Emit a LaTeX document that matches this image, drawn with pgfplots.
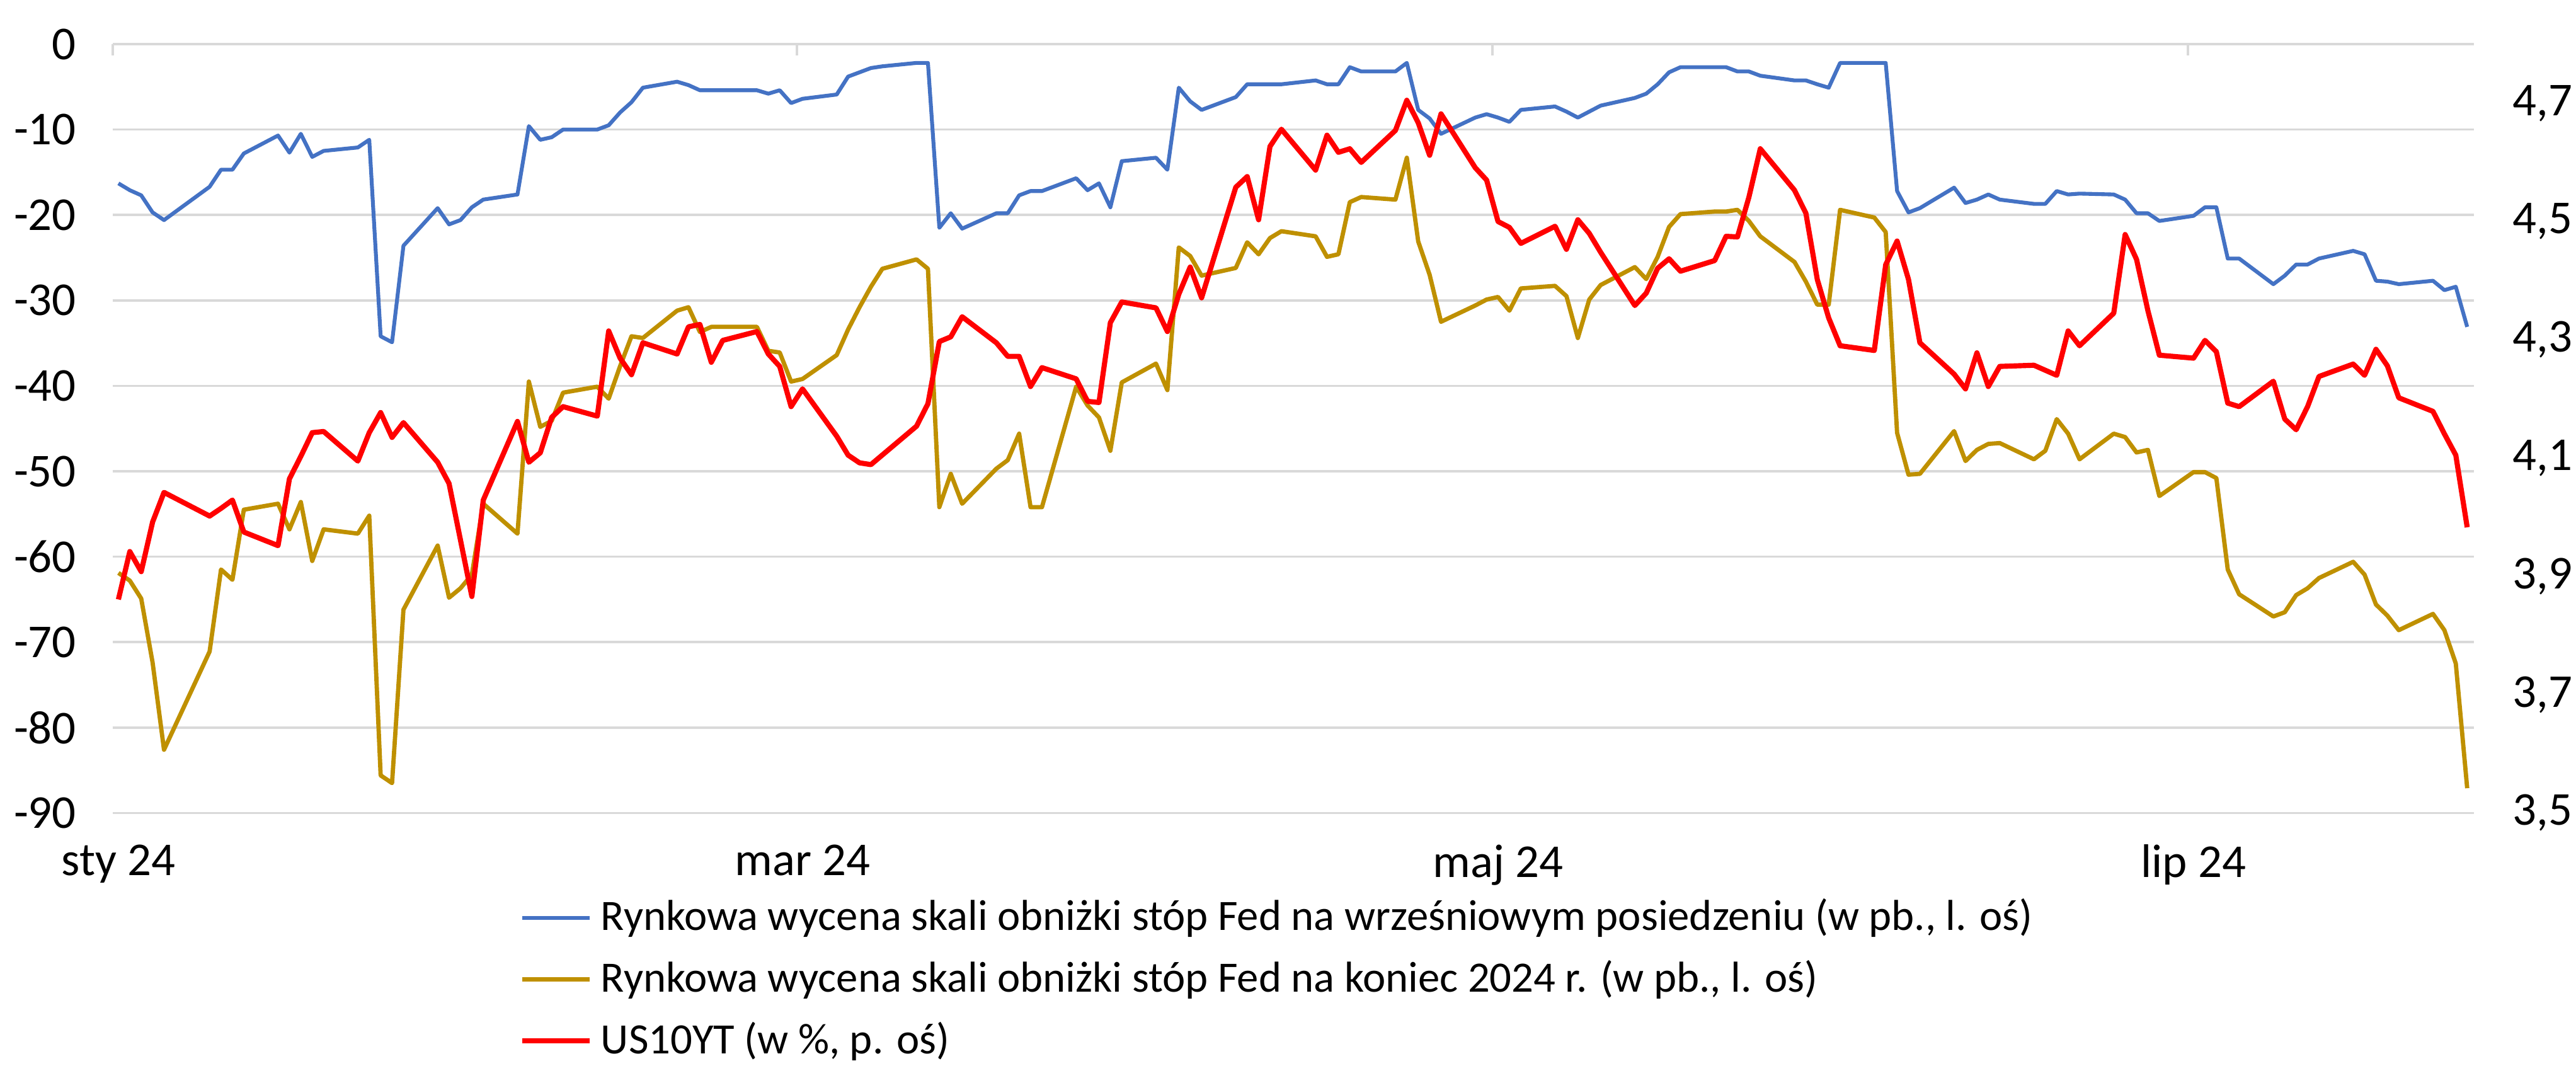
\documentclass[border=0pt]{standalone}
\usepackage{pgfplots}
\pgfplotsset{compat=1.18}
\usepackage{fontspec}
\setmainfont{Carlito}
\definecolor{cblue}{HTML}{4472C4}
\definecolor{cgold}{HTML}{BF9000}
\definecolor{cred}{HTML}{FF0000}
\definecolor{cgrid}{HTML}{D9D9D9}

\pgfplotstableread{
d v
0 -16.3
1 -17.1
2 -17.7
3 -19.7
4 -20.6
8 -16.7
9 -14.7
10 -14.7
11 -12.8
14 -10.7
15 -12.7
16 -10.5
17 -13.2
18 -12.5
21 -12.1
22 -11.2
23 -34.2
24 -34.9
25 -23.6
28 -19.2
29 -21.1
30 -20.6
31 -19.1
32 -18.2
35 -17.6
36 -9.6
37 -11.2
38 -10.9
39 -10.0
42 -10.0
43 -9.5
44 -8.0
45 -6.8
46 -5.1
49 -4.4
50 -4.8
51 -5.4
52 -5.4
53 -5.4
56 -5.4
57 -5.8
58 -5.4
59 -6.9
60 -6.4
63 -5.9
64 -3.8
65 -3.3
66 -2.8
67 -2.6
70 -2.2
71 -2.2
72 -21.5
73 -19.8
74 -21.6
77 -19.8
78 -19.8
79 -17.7
80 -17.2
81 -17.2
84 -15.7
85 -17.1
86 -16.3
87 -19.1
88 -13.7
91 -13.3
92 -14.7
93 -5.1
94 -6.7
95 -7.7
98 -6.2
99 -4.7
100 -4.7
101 -4.7
102 -4.7
105 -4.25
106 -4.7
107 -4.7
108 -2.7
109 -3.2
112 -3.2
113 -2.2
114 -7.7
115 -8.7
116 -10.5
119 -8.6
120 -8.2
121 -8.6
122 -9.1
123 -7.7
126 -7.3
127 -7.9
128 -8.6
129 -7.9
130 -7.2
133 -6.3
134 -5.8
135 -4.7
136 -3.3
137 -2.7
140 -2.7
141 -2.7
142 -3.2
143 -3.2
144 -3.7
147 -4.25
148 -4.25
149 -4.7
150 -5.1
151 -2.2
154 -2.2
155 -2.2
156 -17.2
157 -19.7
158 -19.2
161 -16.8
162 -18.6
163 -18.2
164 -17.6
165 -18.2
168 -18.7
169 -18.7
170 -17.2
171 -17.6
172 -17.5
175 -17.6
176 -18.2
177 -19.8
178 -19.8
179 -20.7
182 -20.1
183 -19.1
184 -19.1
185 -25.1
186 -25.1
189 -28.1
190 -27.1
191 -25.8
192 -25.8
193 -25.1
196 -24.2
197 -24.6
198 -27.7
199 -27.8
200 -28.1
203 -27.7
204 -28.8
205 -28.4
206 -33.1
}\blueT

\pgfplotstableread{
d v
0 -61.9
1 -62.8
2 -64.9
3 -72.4
4 -82.6
8 -71.1
9 -61.5
10 -62.7
11 -54.5
14 -53.8
15 -56.8
16 -53.6
17 -60.5
18 -56.8
21 -57.3
22 -55.2
23 -85.6
24 -86.5
25 -66.2
28 -58.7
29 -64.8
30 -63.7
31 -62.1
32 -53.8
35 -57.3
36 -39.5
37 -44.8
38 -44.1
39 -40.8
42 -40.1
43 -41.5
44 -37.7
45 -34.2
46 -34.4
49 -31.2
50 -30.8
51 -33.7
52 -33.1
53 -33.1
56 -33.1
57 -35.9
58 -36.1
59 -39.5
60 -39.2
63 -36.4
64 -33.4
65 -30.8
66 -28.4
67 -26.3
70 -25.2
71 -26.3
72 -54.2
73 -50.3
74 -53.8
77 -49.7
78 -48.7
79 -45.6
80 -54.2
81 -54.2
84 -40.1
85 -42.3
86 -43.7
87 -47.6
88 -39.6
91 -37.4
92 -40.5
93 -23.8
94 -24.8
95 -27.1
98 -26.2
99 -23.2
100 -24.6
101 -22.7
102 -21.9
105 -22.5
106 -24.9
107 -24.6
108 -18.5
109 -17.9
112 -18.2
113 -13.3
114 -23.1
115 -27.0
116 -32.5
119 -30.6
120 -29.9
121 -29.6
122 -31.2
123 -28.6
126 -28.3
127 -29.5
128 -34.4
129 -29.9
130 -28.2
133 -26.1
134 -27.5
135 -24.9
136 -21.4
137 -19.9
140 -19.6
141 -19.6
142 -19.4
143 -20.7
144 -22.5
147 -25.5
148 -27.8
149 -30.5
150 -30.5
151 -19.4
154 -20.3
155 -22.0
156 -45.5
157 -50.4
158 -50.3
161 -45.3
162 -48.8
163 -47.5
164 -46.8
165 -46.7
168 -48.6
169 -47.6
170 -43.9
171 -45.6
172 -48.6
175 -45.6
176 -46.0
177 -47.8
178 -47.5
179 -52.9
182 -50.1
183 -50.1
184 -50.8
185 -61.5
186 -64.4
189 -67.0
190 -66.5
191 -64.5
192 -63.7
193 -62.5
196 -60.6
197 -62.1
198 -65.6
199 -66.9
200 -68.6
203 -66.7
204 -68.6
205 -72.5
206 -87.1
}\goldT

\pgfplotstableread{
d v
0 3.861
1 3.942
2 3.908
3 3.992
4 4.042
8 4.002
9 4.015
10 4.029
11 3.975
14 3.952
15 4.065
16 4.103
17 4.143
18 4.145
21 4.095
22 4.143
23 4.177
24 4.135
25 4.160
28 4.093
29 4.057
31 3.866
32 4.029
35 4.162
36 4.093
37 4.109
38 4.169
39 4.187
42 4.171
43 4.315
44 4.269
45 4.241
46 4.295
49 4.276
50 4.322
51 4.326
52 4.262
53 4.299
56 4.314
57 4.276
58 4.255
59 4.187
60 4.217
63 4.137
64 4.105
65 4.092
66 4.089
70 4.154
71 4.192
72 4.297
73 4.305
74 4.339
77 4.295
78 4.272
79 4.272
80 4.221
81 4.253
84 4.234
85 4.196
86 4.194
87 4.329
88 4.364
91 4.354
92 4.314
93 4.377
94 4.423
95 4.371
98 4.558
99 4.576
100 4.503
101 4.627
102 4.656
105 4.587
106 4.646
107 4.617
108 4.623
109 4.600
112 4.654
113 4.705
114 4.667
115 4.612
116 4.682
119 4.591
120 4.570
121 4.500
122 4.490
123 4.463
126 4.492
127 4.453
128 4.503
129 4.480
130 4.448
133 4.358
134 4.379
135 4.421
136 4.437
137 4.416
140 4.434
141 4.475
142 4.474
143 4.541
144 4.623
147 4.553
148 4.514
149 4.402
150 4.337
151 4.290
154 4.282
155 4.427
156 4.467
157 4.402
158 4.295
161 4.242
162 4.217
163 4.278
164 4.221
165 4.255
168 4.257
170 4.240
171 4.315
172 4.290
175 4.345
176 4.478
177 4.436
178 4.349
179 4.274
182 4.269
183 4.299
184 4.280
185 4.193
186 4.187
189 4.230
190 4.166
191 4.148
192 4.187
193 4.238
196 4.259
197 4.240
198 4.284
199 4.256
200 4.202
203 4.179
204 4.141
205 4.105
206 3.983
}\redT

\pgfplotsset{
  common/.style={
    scale only axis, width=551pt, height=179.4pt,
    xmin=-0.5, xmax=206.6,
    axis line style={draw=none},
    ticklabel style={font=\fontsize{11}{13}\selectfont, text=black},
    line join=round,
  }
}

\begin{document}
\begin{tikzpicture}
\begin{axis}[common, name=main,
  ymin=-90, ymax=0,
  ytick={-90,-80,-70,-60,-50,-40,-30,-20,-10,0},
  yticklabels={-90,-80,-70,-60,-50,-40,-30,-20,-10,0},
  ymajorgrids, grid style={cgrid, line width=0.55pt},
  y tick style={draw=none},
  yticklabel style={xshift=-5pt},
  xtick={-0.5,59.5,120.5,181.5}, xticklabels={},
  xtick pos=upper, xticklabel pos=lower,
  x tick style={cgrid, line width=0.6pt}, major tick length=2.6pt,
  extra x ticks={0,60,121,182},
  extra x tick labels={sty 24,mar 24,maj 24,lip 24},
  extra x tick style={major tick length=0pt, xticklabel style={yshift=-3.9pt}},
  legend cell align=left,
  legend image code/.code={\draw[#1] (0pt,0pt) -- (15.7pt,0pt);},
  legend style={at={(axis description cs:0.1721,0)}, anchor=north west,
    yshift=-17.8pt, draw=none, fill=none, inner sep=0pt,
    font=\fontsize{10.1}{12}\selectfont, row sep=1.5pt},
]
\addplot[cblue, line width=0.9pt] table[x=d,y=v] {\blueT};
\addlegendentry{Rynkowa wycena skali obniżki stóp Fed na wrześniowym posiedzeniu (w pb., l. oś)}
\addplot[cgold, line width=1.0pt] table[x=d,y=v] {\goldT};
\addlegendentry{Rynkowa wycena skali obniżki stóp Fed na koniec 2024 r. (w pb., l. oś)}
\addlegendimage{cred, line width=1.2pt}
\addlegendentry{US10YT (w \%, p. oś)}
\end{axis}
\begin{axis}[common,
  ymin=3.5, ymax=4.8,
  ytick={3.5,3.7,3.9,4.1,4.3,4.5,4.7},
  yticklabels={{3,5},{3,7},{3,9},{4,1},{4,3},{4,5},{4,7}},
  yticklabel pos=right, ytick pos=right,
  y tick style={draw=none},
  yticklabel style={xshift=5.5pt},
  hide x axis,
]
\addplot[cred, line width=1.2pt] table[x=d,y=v] {\redT};
\end{axis}
\pgfresetboundingbox
\path[use as bounding box] ([xshift=-26.3pt,yshift=-59pt]main.south west) rectangle ([xshift=23.8pt,yshift=10.3pt]main.north east);
\end{tikzpicture}
\end{document}
